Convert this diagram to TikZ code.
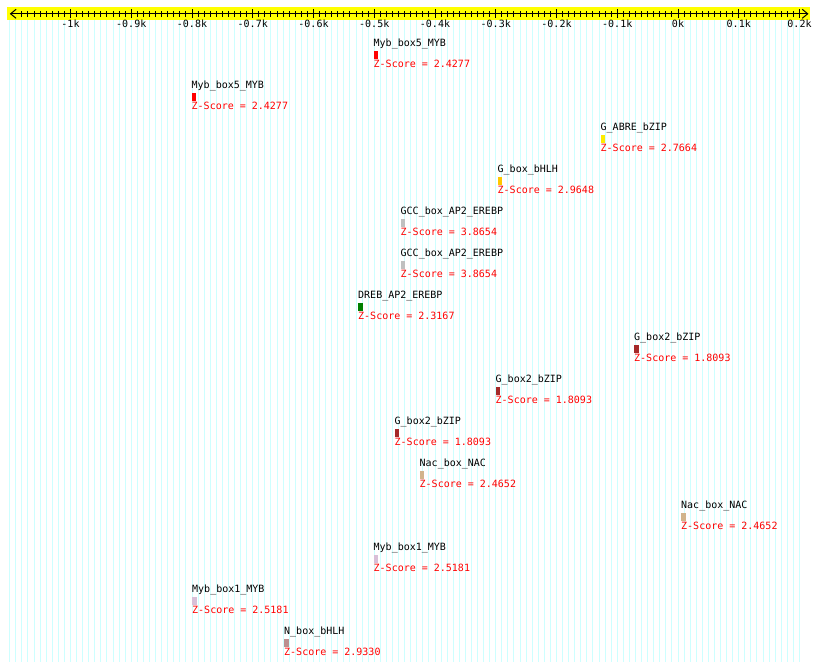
\documentclass[tikz,border=0pt]{standalone}
\usepackage{fontspec}
\newfontfamily\monofont{DejaVu Sans Mono}
\usetikzlibrary{arrows.meta}
\definecolor{gridc}{RGB}{205,255,255}
\definecolor{bandc}{RGB}{255,255,0}
\definecolor{zred}{RGB}{255,0,0}
\definecolor{cRed}{RGB}{255,0,0}
\definecolor{cYel}{RGB}{255,235,0}
\definecolor{cGold}{RGB}{255,200,0}
\definecolor{cGray}{RGB}{192,192,192}
\definecolor{cGreen}{RGB}{0,128,0}
\definecolor{cBrown}{RGB}{165,42,42}
\definecolor{cTan}{RGB}{210,180,140}
\definecolor{cThistle}{RGB}{216,191,216}
\definecolor{cRosy}{RGB}{188,143,143}
\tikzset{
  gridline/.style={draw=gridc, line width=1pt},
  tickline/.style={draw=black, line width=1pt},
  ticklab/.style={font=\monofont\fontsize{10}{12}\selectfont, inner sep=0pt, anchor=base},
  lab/.style={font=\monofont\fontsize{10}{12}\selectfont, inner sep=0pt, anchor=base west, text=black},
  zs/.style={font=\monofont\fontsize{10}{12}\selectfont, inner sep=0pt, anchor=base west, text=zred},
  barbox/.style={inner sep=0pt, minimum width=4.5pt, minimum height=8.5pt, anchor=north west, draw=none},
}
\begin{document}
\begin{tikzpicture}[x=1pt,y=-1pt]
\useasboundingbox (0,0) rectangle (820,671);
\fill[white] (0,0) rectangle (820,671);
\fill[bandc] (7.3,7.3) rectangle (810,20);
\foreach \u in {-1100,-1090,...,200} {
  \draw[gridline] ({678+0.6075*\u},20) -- ({678+0.6075*\u},662);
}
\coordinate (axL) at (9.8,13.8);
\coordinate (axR) at (808.5,13.8);
\draw[line width=1pt, {Straight Barb[length=5.5pt,width=9pt]}-{Straight Barb[length=5.5pt,width=9pt]}] (axL) -- (axR);
\foreach \u in {-1080,-1070,...,190} {
  \draw[tickline] ({678+0.6075*\u},11.3) -- ({678+0.6075*\u},16.7);
}
\foreach \u/\t in {-1000/-1k,-900/-0.9k,-800/-0.8k,-700/-0.7k,-600/-0.6k,-500/-0.5k,-400/-0.4k,-300/-0.3k,-200/-0.2k,-100/-0.1k,0/0k,100/0.1k,200/0.2k} {
  \draw[tickline] ({678+0.6075*\u},9.5) -- ({678+0.6075*\u},18.5);
  \node[ticklab] (t\u) at ({678+0.6075*\u},28) {\t};
}
\foreach \i/\x/\lab/\col/\z in {
  1/373.5/Myb\_box5\_MYB/cRed/2.4277,
  2/191.5/Myb\_box5\_MYB/cRed/2.4277,
  3/600.5/G\_ABRE\_bZIP/cYel/2.7664,
  4/497.5/G\_box\_bHLH/cGold/2.9648,
  5/400.5/GCC\_box\_AP2\_EREBP/cGray/3.8654,
  6/400.5/GCC\_box\_AP2\_EREBP/cGray/3.8654,
  7/358/DREB\_AP2\_EREBP/cGreen/2.3167,
  8/634/G\_box2\_bZIP/cBrown/1.8093,
  9/495.5/G\_box2\_bZIP/cBrown/1.8093,
  10/394.5/G\_box2\_bZIP/cBrown/1.8093,
  11/419.5/Nac\_box\_NAC/cTan/2.4652,
  12/681/Nac\_box\_NAC/cTan/2.4652,
  13/373.5/Myb\_box1\_MYB/cThistle/2.5181,
  14/192/Myb\_box1\_MYB/cThistle/2.5181,
  15/284/N\_box\_bHLH/cRosy/2.9330} {
  \node[lab] (f\i) at (\x,{46.5+42*(\i-1)}) {\lab};
  \node[barbox, fill=\col] (b\i) at (\x,{50.5+42*(\i-1)}) {};
  \node[zs] (z\i) at (\x,{67.5+42*(\i-1)}) {Z-Score = \z};
}
\end{tikzpicture}
\end{document}
